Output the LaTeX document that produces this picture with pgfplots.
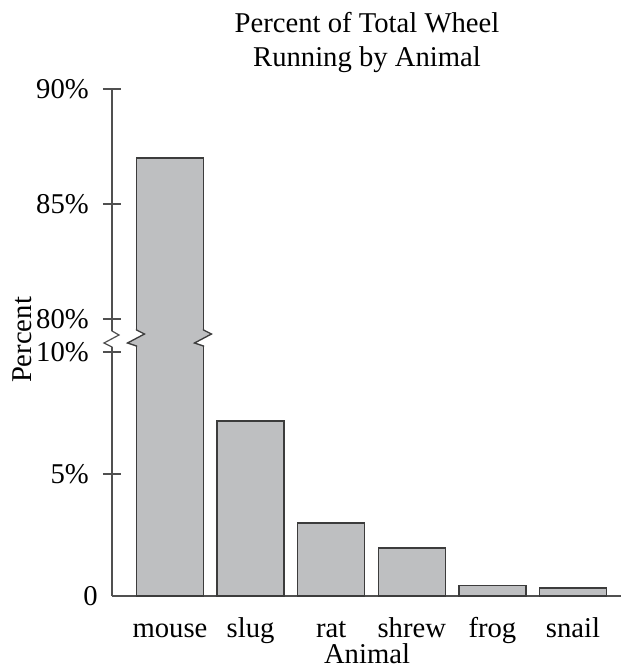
\documentclass[border=0pt]{standalone}
\usepackage{fontspec}
\setmainfont{Liberation Serif}
\usepackage{pgfplots}
\usepackage{pgfplotstable}
\pgfplotsset{compat=1.18}
\definecolor{barfill}{HTML}{BEBFC1}
\definecolor{baredge}{HTML}{3C3C3C}
\definecolor{axisgray}{HTML}{505050}

% share of total wheel running, in percent
\pgfplotstableread{
idx pct
0   87
1   7.17
2   2.99
3   1.97
4   0.42
5   0.33
}\wheeldata

\newcommand{\chartfont}{\fontsize{21.5}{25}\selectfont}

\pgfplotsset{
  wheel/.style={
    scale only axis,
    width=381.75pt,
    anchor=south west,
    xmin=-0.7196, xmax=5.5955,
    enlargelimits=false,
    ybar,
    bar width=0.831,
    tick align=center,
    major tick length=13.5pt,
    every tick/.style={axisgray, line width=0.9pt},
    axis line style={axisgray, line width=0.9pt},
    /pgf/number format/assume math mode=true,
    tick label style={font=\chartfont},
    yticklabel style={anchor=east, inner sep=0pt, xshift=-10.5pt},
  },
  wheelbar/.style={fill=barfill, draw=baredge, line width=1pt},
}

\begin{document}
\begin{tikzpicture}
\useasboundingbox (0,0) rectangle (465.75pt,501.75pt);

% lower part: 0 to about 10.6 %
\begin{axis}[wheel,
    at={(84pt,54.75pt)},
    height=193.5pt,
    ymin=0, ymax=10.574,
    axis x line*=bottom, axis y line*=left,
    xtick={0,1,2,3,4,5},
    xticklabels={mouse,slug,rat,shrew,frog,snail},
    xtick style={draw=none},
    xticklabel style={anchor=base, yshift=-24pt},
    ytick={5,10},
    yticklabels={5\%,10\%},
    extra y ticks={0},
    extra y tick labels={0},
    extra y tick style={major tick length=0pt},
  ]
  \addplot[wheelbar] table[x=idx, y=pct] {\wheeldata};
\end{axis}

% upper part: about 79.2 to 90 %, only the bar that reaches it
\begin{axis}[wheel,
    at={(84pt,248.25pt)},
    height=186.75pt,
    ymin=79.174, ymax=90,
    axis x line=none, axis y line*=left,
    xtick=\empty,
    ytick={80,85,90},
    yticklabels={80\%,85\%,90\%},
  ]
  \addplot[wheelbar, restrict y to domain=50:100] table[x=idx, y=pct] {\wheeldata};
\end{axis}

% break marks, in pixel units of the reference
\begin{scope}[x=0.75pt, y=-0.75pt, shift={(0pt,501.75pt)}]
  \fill[white] (103,331) rectangle (121,347);
  \draw[axisgray, line width=0.9pt, line join=miter]
    (112,330) -- (112,331) -- (119,335) -- (104,343) -- (112,347) -- (112,348);
  \fill[white] (126,330) rectangle (214,346);
  \fill[barfill] (136.5,330) -- (144.5,334) -- (127.5,343) -- (136.5,346)
    -- (203.5,346) -- (194.5,343) -- (211.5,334) -- (203.5,330) -- cycle;
  \draw[baredge, line width=1pt]
    (136.5,329) -- (136.5,330) -- (144.5,334) -- (127.5,343) -- (136.5,346) -- (136.5,347);
  \draw[baredge, line width=1pt]
    (203.5,329) -- (203.5,330) -- (211.5,334) -- (194.5,343) -- (203.5,346) -- (203.5,347);

  \node[font=\chartfont, anchor=base] at (367,33) {Percent of Total Wheel};
  \node[font=\chartfont, anchor=base] at (367,67) {Running by Animal};
  \node[font=\chartfont, anchor=base, rotate=90] at (32,340) {Percent};
  \node[font=\chartfont, anchor=base, inner sep=0pt] at (367,663) {Animal};
\end{scope}
\end{tikzpicture}
\end{document}
